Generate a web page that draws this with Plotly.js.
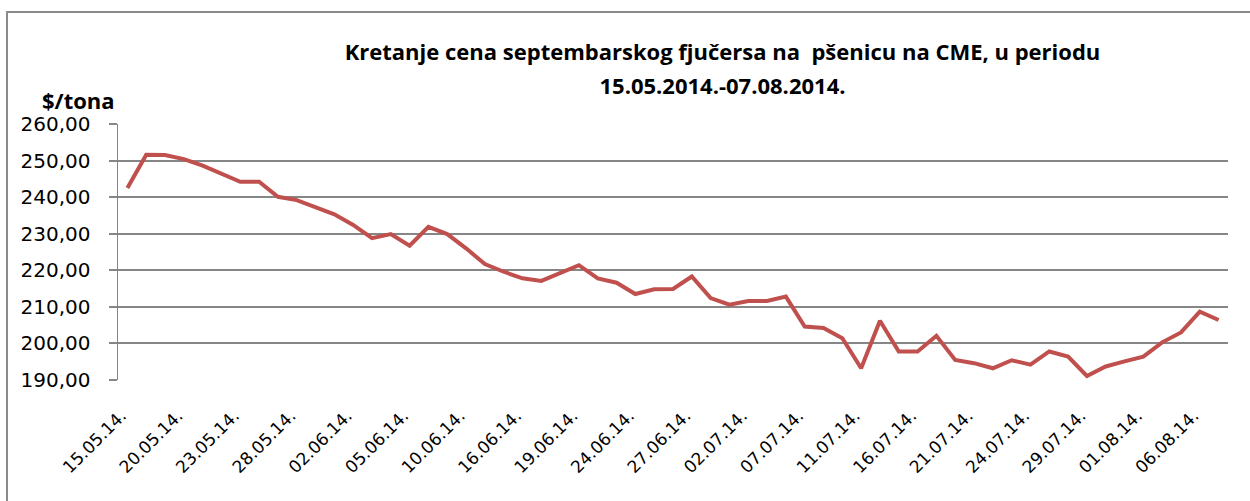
<!DOCTYPE html>
<html>
<head>
<meta charset="utf-8">
<script src="https://cdn.plot.ly/plotly-3.0.1.min.js"></script>
<style>
  html, body { margin: 0; padding: 0; background: #ffffff; }
  #wrap { position: relative; width: 1250px; height: 501px; overflow: hidden; }
  #frame { position: absolute; left: 6px; top: 11px; width: 1300px; height: 600px; border: 2px solid #8a8a8a; box-sizing: border-box; }
  #chart { position: absolute; left: 0; top: 0; width: 1250px; height: 501px; }
</style>
</head>
<body>
<div id="wrap">
  <div id="frame"></div>
  <div id="chart"></div>
</div>
<script>
const dates = ["15.05.14.","16.05.14.","19.05.14.","20.05.14.","21.05.14.","22.05.14.","23.05.14.","26.05.14.","27.05.14.","28.05.14.","29.05.14.","30.05.14.",
  "02.06.14.","03.06.14.","04.06.14.","05.06.14.","06.06.14.","09.06.14.","10.06.14.","11.06.14.","13.06.14.","16.06.14.","17.06.14.","18.06.14.","19.06.14.","20.06.14.","23.06.14.","24.06.14.","25.06.14.","26.06.14.","27.06.14.","30.06.14.",
  "01.07.14.","02.07.14.","03.07.14.","04.07.14.","07.07.14.","08.07.14.","10.07.14.","11.07.14.","14.07.14.","15.07.14.","16.07.14.","17.07.14.","18.07.14.","21.07.14.","22.07.14.","23.07.14.","24.07.14.","25.07.14.","28.07.14.","29.07.14.","30.07.14.","31.07.14.",
  "01.08.14.","04.08.14.","05.08.14.","06.08.14.","07.08.14."];

const prices = [242.5, 251.6, 251.5, 250.4, 248.6, 246.3, 244.2, 244.2, 240.1, 239.2,
  237.2, 235.3, 232.4, 228.8, 229.9, 226.7, 231.9, 229.9, 226.0, 221.7,
  219.6, 217.8, 217.1, 219.2, 221.4, 217.8, 216.6, 213.5, 214.8, 214.9,
  218.3, 212.4, 210.6, 211.6, 211.6, 212.8, 204.6, 204.2, 201.4, 193.2,
  206.2, 197.8, 197.8, 202.1, 195.5, 194.6, 193.2, 195.4, 194.2, 197.8,
  196.4, 191.1, 193.7, 195.1, 196.4, 200.3, 203.0, 208.7, 206.4];

const tickDates = ["15.05.14.","20.05.14.","23.05.14.","28.05.14.","02.06.14.","05.06.14.","10.06.14.","16.06.14.","19.06.14.","24.06.14.",
  "27.06.14.","02.07.14.","07.07.14.","11.07.14.","16.07.14.","21.07.14.","24.07.14.","29.07.14.","01.08.14.","06.08.14."];

const yTicks = [190, 200, 210, 220, 230, 240, 250, 260];

const titleLine1 = 'Kretanje cena septembarskog fjučersa na  pšenicu na CME, u periodu';
const titleLine2 = '15.05.2014.-07.08.2014.';

const trace = {
  x: dates,
  y: prices,
  type: 'scatter',
  mode: 'lines',
  line: { color: '#C0504D', width: 4 },
  hoverinfo: 'x+y'
};

const layout = {
  width: 1250,
  height: 501,
  paper_bgcolor: 'rgba(0,0,0,0)',
  plot_bgcolor: 'rgba(0,0,0,0)',
  separators: ', ',
  margin: { l: 118, r: 22, t: 124, b: 121 },
  showlegend: false,
  title: {
    text: titleLine1,
    font: { family: 'Open Sans, sans-serif', size: 22, color: '#000000', weight: 'bold' },
    x: 0.578, xref: 'container', xanchor: 'center',
    y: 0.895, yref: 'container', yanchor: 'middle',
    subtitle: {
      text: '<span style="font-size:22px;font-weight:bold">' + titleLine2 + '</span>',
      font: { family: 'Open Sans, sans-serif', size: 14, color: '#000000', weight: 'bold' }
    }
  },
  xaxis: {
    type: 'category',
    range: [-0.5, dates.length - 0.5],
    tickmode: 'array',
    tickvals: tickDates,
    ticktext: tickDates,
    tickangle: -45,
    ticks: 'outside',
    ticklen: 18,
    tickcolor: 'rgba(0,0,0,0)',
    ticklabelshift: -6,
    showgrid: false,
    showline: false,
    zeroline: false,
    tickfont: { family: 'DejaVu Sans, sans-serif', size: 17, color: '#000000' }
  },
  yaxis: {
    range: [190, 260],
    tickmode: 'array',
    tickvals: yTicks,
    tickformat: '.2f',
    ticks: 'outside',
    ticklen: 8,
    tickwidth: 2,
    tickcolor: '#868686',
    showgrid: true,
    gridcolor: '#868686',
    gridwidth: 2,
    showline: true,
    linecolor: '#868686',
    linewidth: 1.5,
    zeroline: false,
    ticklabelstandoff: 14,
    tickfont: { family: 'DejaVu Sans, sans-serif', size: 20, color: '#000000' }
  },
  annotations: [{
    text: '<b>$/tona</b>',
    xref: 'paper', yref: 'paper',
    x: -0.07, y: 1.0,
    xanchor: 'left', yanchor: 'bottom',
    yshift: 7,
    showarrow: false,
    font: { family: 'Open Sans, sans-serif', size: 22, color: '#000000' }
  }]
};

Plotly.newPlot('chart', [trace], layout, { displayModeBar: false, staticPlot: true });
</script>
</body>
</html>
